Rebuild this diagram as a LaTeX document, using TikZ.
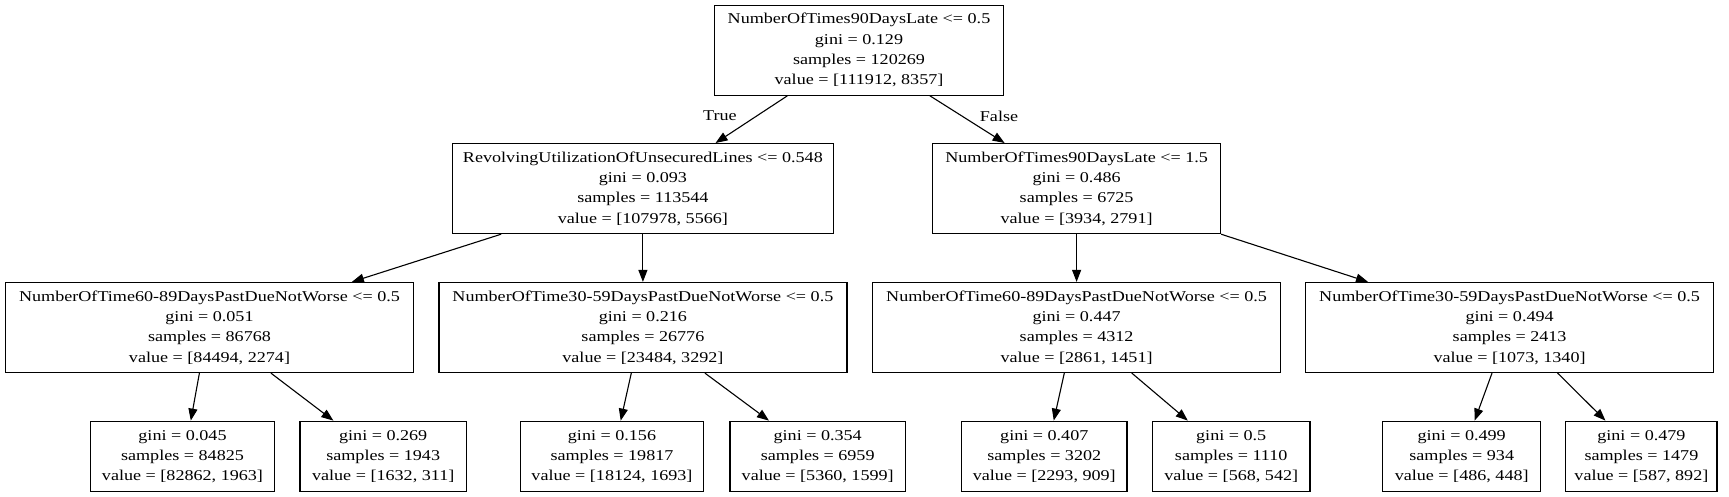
\documentclass[tikz,border=0pt]{standalone}
\usepackage{fontspec}
\setmainfont{Liberation Serif}[FakeStretch=1.207]
\usetikzlibrary{arrows.meta}
\begin{document}
\begin{tikzpicture}[x=1pt,y=-1pt,
  box/.style={draw, line width=1.2pt, rectangle, inner sep=0pt, align=center, font=\fontsize{15}{20.3}\selectfont},
  inner/.style={box, minimum height=90pt},
  leaf/.style={box, minimum height=70.6pt},
  edge/.style={line width=1.1pt, -{Triangle[length=12pt,width=9pt]}},
  lbl/.style={font=\fontsize{15}{20.3}\selectfont, inner sep=0pt}]
\useasboundingbox (0,0) rectangle (1729,497);

\node[inner, minimum width=289pt] (root) at (859,50.2) {NumberOfTimes90DaysLate <= 0.5\\gini = 0.129\\samples = 120269\\value = [111912, 8357]};

\node[inner, minimum width=381.5pt] (l1a) at (642.9,188.6) {RevolvingUtilizationOfUnsecuredLines <= 0.548\\gini = 0.093\\samples = 113544\\value = [107978, 5566]};
\node[inner, minimum width=287.8pt] (l1b) at (1076.6,188.6) {NumberOfTimes90DaysLate <= 1.5\\gini = 0.486\\samples = 6725\\value = [3934, 2791]};

\node[inner, minimum width=408pt] (A) at (209.5,327.5) {NumberOfTime60-89DaysPastDueNotWorse <= 0.5\\gini = 0.051\\samples = 86768\\value = [84494, 2274]};
\node[inner, minimum width=408pt] (B) at (642.9,327.5) {NumberOfTime30-59DaysPastDueNotWorse <= 0.5\\gini = 0.216\\samples = 26776\\value = [23484, 3292]};
\node[inner, minimum width=408pt] (C) at (1076.6,327.5) {NumberOfTime60-89DaysPastDueNotWorse <= 0.5\\gini = 0.447\\samples = 4312\\value = [2861, 1451]};
\node[inner, minimum width=408pt] (D) at (1509.6,327.5) {NumberOfTime30-59DaysPastDueNotWorse <= 0.5\\gini = 0.494\\samples = 2413\\value = [1073, 1340]};

\node[leaf, minimum width=184.2pt] (a1) at (182.5,456.5) {gini = 0.045\\samples = 84825\\value = [82862, 1963]};
\node[leaf, minimum width=166.5pt] (a2) at (383.2,456.5) {gini = 0.269\\samples = 1943\\value = [1632, 311]};
\node[leaf, minimum width=183pt] (b1) at (612,456.5) {gini = 0.156\\samples = 19817\\value = [18124, 1693]};
\node[leaf, minimum width=175.3pt] (b2) at (817.7,456.5) {gini = 0.354\\samples = 6959\\value = [5360, 1599]};
\node[leaf, minimum width=165.5pt] (c1) at (1044.3,456.5) {gini = 0.407\\samples = 3202\\value = [2293, 909]};
\node[leaf, minimum width=157.6pt] (c2) at (1231.2,456.5) {gini = 0.5\\samples = 1110\\value = [568, 542]};
\node[leaf, minimum width=157.7pt] (d1) at (1461.7,456.5) {gini = 0.499\\samples = 934\\value = [486, 448]};
\node[leaf, minimum width=151.1pt] (d2) at (1641.4,456.5) {gini = 0.479\\samples = 1479\\value = [587, 892]};

\draw[edge] ([xshift=73.5pt]root.south west) -- ([xshift=264pt]l1a.north west);
\draw[edge] ([xshift=216pt]root.south west) -- ([xshift=72.5pt]l1b.north west);
\draw[edge] ([xshift=49.6pt]l1a.south west) -- ([xshift=347pt]A.north west);
\draw[edge] (l1a.south) -- (B.north);
\draw[edge] (l1b.south) -- (C.north);
\draw[edge] (l1b.south east) -- ([xshift=63pt]D.north west);
\draw[edge] ([xshift=194.5pt]A.south west) -- ([xshift=101pt]a1.north west);
\draw[edge] ([xshift=266pt]A.south west) -- ([xshift=34pt]a2.north west);
\draw[edge] ([xshift=193pt]B.south west) -- ([xshift=100.8pt]b1.north west);
\draw[edge] ([xshift=266.6pt]B.south west) -- ([xshift=39.5pt]b2.north west);
\draw[edge] ([xshift=192.3pt]C.south west) -- ([xshift=92.8pt]c1.north west);
\draw[edge] ([xshift=259.8pt]C.south west) -- ([xshift=36pt]c2.north west);
\draw[edge] ([xshift=187pt]D.south west) -- ([xshift=92.4pt]d1.north west);
\draw[edge] ([xshift=252.6pt]D.south west) -- ([xshift=40.2pt]d2.north west);

\node[lbl] (t) at (720,116) {True};
\node[lbl] (f) at (999,116) {False};
\end{tikzpicture}
\end{document}
